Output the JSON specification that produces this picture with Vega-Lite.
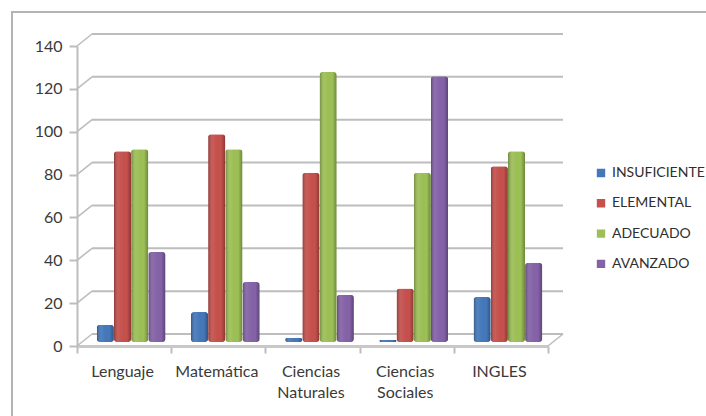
{
  "$schema": "https://vega.github.io/schema/vega-lite/v6.json",
  "width": 700,
  "height": 410,
  "autosize": "none",
  "padding": {"left": 12, "top": 12, "right": 0, "bottom": 0},
  "background": "white",
  "config": {
    "view": {"stroke": "#b4b4b4", "strokeWidth": 2},
    "font": "Lato"
  },
  "datasets": {
    "results": [
      {"area": "Lenguaje", "level": "INSUFICIENTE", "students": 8},
      {"area": "Lenguaje", "level": "ELEMENTAL", "students": 89},
      {"area": "Lenguaje", "level": "ADECUADO", "students": 90},
      {"area": "Lenguaje", "level": "AVANZADO", "students": 42},
      {"area": "Matemática", "level": "INSUFICIENTE", "students": 14},
      {"area": "Matemática", "level": "ELEMENTAL", "students": 97},
      {"area": "Matemática", "level": "ADECUADO", "students": 90},
      {"area": "Matemática", "level": "AVANZADO", "students": 28},
      {"area": "Ciencias Naturales", "level": "INSUFICIENTE", "students": 2},
      {"area": "Ciencias Naturales", "level": "ELEMENTAL", "students": 79},
      {"area": "Ciencias Naturales", "level": "ADECUADO", "students": 126},
      {"area": "Ciencias Naturales", "level": "AVANZADO", "students": 22},
      {"area": "Ciencias Sociales", "level": "INSUFICIENTE", "students": 1},
      {"area": "Ciencias Sociales", "level": "ELEMENTAL", "students": 25},
      {"area": "Ciencias Sociales", "level": "ADECUADO", "students": 79},
      {"area": "Ciencias Sociales", "level": "AVANZADO", "students": 124},
      {"area": "INGLES", "level": "INSUFICIENTE", "students": 21},
      {"area": "INGLES", "level": "ELEMENTAL", "students": 82},
      {"area": "INGLES", "level": "ADECUADO", "students": 89},
      {"area": "INGLES", "level": "AVANZADO", "students": 37}
    ],
    "grid": [
      {"value": 0, "from": 0, "to": 5},
      {"value": 20, "from": 0, "to": 5},
      {"value": 40, "from": 0, "to": 5},
      {"value": 60, "from": 0, "to": 5},
      {"value": 80, "from": 0, "to": 5},
      {"value": 100, "from": 0, "to": 5},
      {"value": 120, "from": 0, "to": 5},
      {"value": 140, "from": 0, "to": 5}
    ],
    "floorEdge": [{"value": 0, "from": 5}]
  },
  "layer": [
    {
      "description": "Back wall gridlines, set behind the front plane",
      "data": {"name": "grid"},
      "mark": {"type": "rule", "color": "#bdbdbd", "strokeWidth": 2, "xOffset": 15, "x2Offset": 15, "yOffset": -12, "y2Offset": -12},
      "encoding": {
        "x": {"field": "from", "type": "quantitative", "axis": null, "scale": {"domain": [0, 5], "range": [65, 536], "nice": false, "zero": false}},
        "x2": {"field": "to"},
        "y": {"field": "value", "type": "quantitative", "axis": null, "scale": {"domain": [0, 140], "range": [334, 34], "nice": false}}
      }
    },
    {
      "description": "Depth connectors from each axis tick to the back wall",
      "data": {"name": "grid"},
      "mark": {"type": "rule", "color": "#bdbdbd", "strokeWidth": 1.6, "x2Offset": 15, "y2Offset": -12},
      "encoding": {
        "x": {"field": "from", "type": "quantitative", "axis": null, "scale": {"domain": [0, 5], "range": [65, 536], "nice": false, "zero": false}},
        "x2": {"field": "from"},
        "y": {"field": "value", "type": "quantitative", "axis": null, "scale": {"domain": [0, 140], "range": [334, 34], "nice": false}},
        "y2": {"field": "value"}
      }
    },
    {
      "description": "Right edge of the floor",
      "data": {"name": "floorEdge"},
      "mark": {"type": "rule", "color": "#bdbdbd", "strokeWidth": 1.6, "x2Offset": 15, "y2Offset": -12},
      "encoding": {
        "x": {"field": "from", "type": "quantitative", "axis": null, "scale": {"domain": [0, 5], "range": [65, 536], "nice": false, "zero": false}},
        "x2": {"field": "from"},
        "y": {"field": "value", "type": "quantitative", "axis": null, "scale": {"domain": [0, 140], "range": [334, 34], "nice": false}},
        "y2": {"field": "value"}
      }
    },
    {
      "description": "Carrier for the two axes on the front plane; its columns stay invisible",
      "data": {"name": "results"},
      "mark": {"type": "bar", "opacity": 0},
      "encoding": {
        "x": {
          "field": "area",
          "type": "nominal",
          "sort": null,
          "scale": {"domain": ["Lenguaje", "Matemática", "Ciencias Naturales", "Ciencias Sociales", "INGLES"], "range": [65, 536], "paddingInner": 0, "paddingOuter": 0},
          "axis": {
            "title": null,
            "orient": "bottom",
            "offset": -76,
            "labelAngle": 0,
            "labelColor": "#3a3a3a",
            "labelFontSize": 16,
            "labelPadding": 10,
            "labelOffset": -2,
            "labelLimit": 200,
            "labelLineHeight": 21,
            "labelExpr": "split(datum.label, ' ')",
            "tickBand": "extent",
            "tickColor": "#bdbdbd",
            "tickWidth": 2,
            "tickSize": 7,
            "domainColor": "#c8c8c8",
            "domainWidth": 3,
            "grid": false
          }
        },
        "y": {
          "field": "students",
          "type": "quantitative",
          "scale": {"domain": [0, 140], "range": [334, 34], "nice": false},
          "axis": {
            "title": null,
            "orient": "left",
            "offset": -65,
            "values": [0, 20, 40, 60, 80, 100, 120, 140],
            "grid": false,
            "labelColor": "#3a3a3a",
            "labelFontSize": 16,
            "labelPadding": 7,
            "tickColor": "#bdbdbd",
            "tickWidth": 2,
            "tickSize": 8,
            "domainColor": "#bdbdbd",
            "domainWidth": 2
          }
        }
      }
    },
    {
      "description": "Grouped columns in their flat series colours, standing on the floor",
      "data": {"name": "results"},
      "mark": {"type": "bar", "cornerRadius": 3},
      "encoding": {
        "x": {
          "field": "area",
          "type": "nominal",
          "sort": null,
          "axis": null,
          "scale": {"domain": ["Lenguaje", "Matemática", "Ciencias Naturales", "Ciencias Sociales", "INGLES"], "range": [72, 543], "paddingInner": 0.27, "paddingOuter": 0.135}
        },
        "xOffset": {"field": "level", "type": "nominal", "sort": null, "scale": {"domain": ["INSUFICIENTE", "ELEMENTAL", "ADECUADO", "AVANZADO"]}},
        "y": {"field": "students", "type": "quantitative", "axis": null, "scale": {"domain": [0, 140], "range": [330, 30], "nice": false}},
        "color": {
          "field": "level",
          "type": "nominal",
          "sort": null,
          "scale": {
            "domain": ["INSUFICIENTE", "ELEMENTAL", "ADECUADO", "AVANZADO"],
            "range": ["#4478bb", "#c6504c", "#9dc056", "#8462a8"]
          },
          "legend": {
            "title": null,
            "orient": "none",
            "legendX": 582,
            "legendY": 154,
            "symbolType": "square",
            "symbolSize": 70,
            "symbolStrokeWidth": 0,
            "labelFontSize": 14,
            "labelColor": "#2f2f2f",
            "labelLimit": 200,
            "labelOffset": 4,
            "rowPadding": 16.3,
            "clipHeight": 14
          }
        }
      }
    },
    {
      "description": "Shading laid over each column to give it a cylindrical look",
      "data": {"name": "results"},
      "mark": {
        "type": "bar",
        "cornerRadius": 3,
        "fill": {
          "gradient": "linear",
          "x1": 0, "x2": 1, "y1": 0, "y2": 0,
          "stops": [
            {"offset": 0, "color": "rgba(0,0,0,0.3)"},
            {"offset": 0.3, "color": "rgba(255,255,255,0.06)"},
            {"offset": 0.75, "color": "rgba(0,0,0,0)"},
            {"offset": 1, "color": "rgba(0,0,0,0.3)"}
          ]
        }
      },
      "encoding": {
        "x": {
          "field": "area",
          "type": "nominal",
          "sort": null,
          "axis": null,
          "scale": {"domain": ["Lenguaje", "Matemática", "Ciencias Naturales", "Ciencias Sociales", "INGLES"], "range": [72, 543], "paddingInner": 0.27, "paddingOuter": 0.135}
        },
        "xOffset": {"field": "level", "type": "nominal", "sort": null, "scale": {"domain": ["INSUFICIENTE", "ELEMENTAL", "ADECUADO", "AVANZADO"]}},
        "y": {"field": "students", "type": "quantitative", "axis": null, "scale": {"domain": [0, 140], "range": [330, 30], "nice": false}}
      }
    }
  ],
  "resolve": {"scale": {"x": "independent", "y": "independent"}, "axis": {"x": "independent", "y": "independent"}}
}
